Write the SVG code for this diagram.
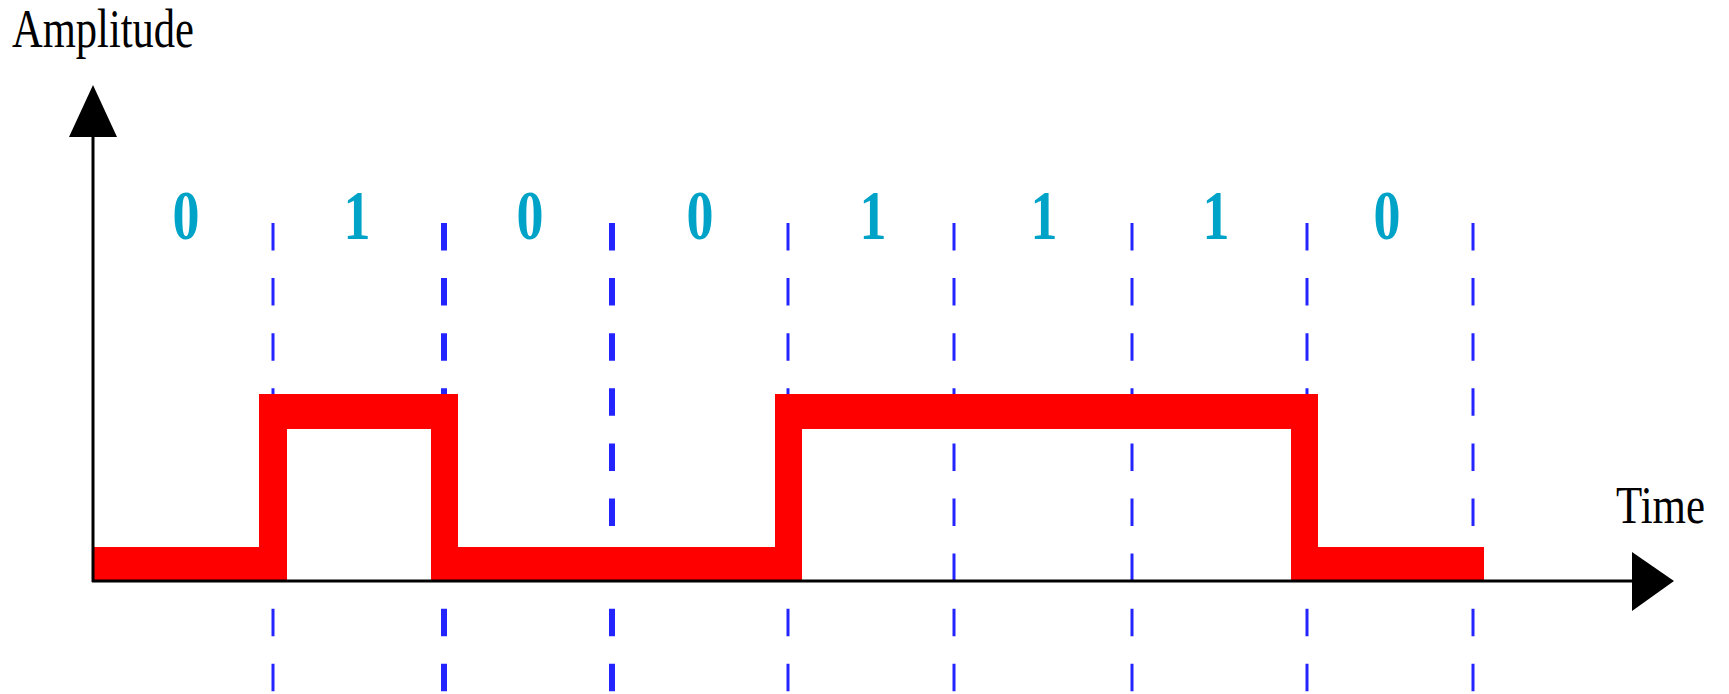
<svg xmlns="http://www.w3.org/2000/svg" width="1729" height="694" viewBox="0 0 1729 694">
<style>
.lbl{font-family:"Liberation Serif","Times New Roman",serif;fill:#000}
.bit{font-family:"Liberation Serif","Times New Roman",serif;font-weight:bold;font-size:69px;fill:#00A3C8;text-anchor:middle}
.grid{stroke:#2424FF;stroke-dasharray:27.5 27.6;fill:none}
.thin{stroke-width:3}
.thick{stroke-width:6}
.axis{stroke:#000;stroke-width:3;fill:none}
</style>
<rect width="1729" height="694" fill="#fff"/>
<g id="gridlines">
<line class="grid thin" x1="273" y1="223" x2="273" y2="694"/>
<line class="grid thick" x1="444" y1="223" x2="444" y2="694"/>
<line class="grid thick" x1="612" y1="223" x2="612" y2="694"/>
<line class="grid thin" x1="788" y1="223" x2="788" y2="694"/>
<line class="grid thin" x1="954" y1="223" x2="954" y2="694"/>
<line class="grid thin" x1="1132" y1="223" x2="1132" y2="694"/>
<line class="grid thin" x1="1307" y1="223" x2="1307" y2="694"/>
<line class="grid thin" x1="1473" y1="223" x2="1473" y2="694"/>
</g>
<g id="signal">
<polygon fill="#FF0000" points="93,547 259,547 259,394 458,394 458,547 775,547 775,394 1318,394 1318,547 1484,547 1484,580 1291,580 1291,429 802,429 802,580 431,580 431,429 287,429 287,580 93,580"/>
</g>
<g id="axes">
<line class="axis" x1="93" y1="582" x2="93" y2="130"/>
<polygon points="93,85 69,137 117,137" fill="#000"/>
<line class="axis" x1="92" y1="581" x2="1640" y2="581"/>
<polygon points="1674,581 1632,552 1632,611" fill="#000"/>
</g>
<g id="labels">
<text class="lbl" x="12" y="47" font-size="54" textLength="182" lengthAdjust="spacingAndGlyphs">Amplitude</text>
<text class="lbl" x="1616" y="523" font-size="53" textLength="89" lengthAdjust="spacingAndGlyphs">Time</text>
</g>
<g id="bits">
<text class="bit" x="186" y="239" textLength="27" lengthAdjust="spacingAndGlyphs">0</text>
<text class="bit" x="357" y="239" textLength="27" lengthAdjust="spacingAndGlyphs">1</text>
<text class="bit" x="530" y="239" textLength="27" lengthAdjust="spacingAndGlyphs">0</text>
<text class="bit" x="700" y="239" textLength="27" lengthAdjust="spacingAndGlyphs">0</text>
<text class="bit" x="873" y="239" textLength="27" lengthAdjust="spacingAndGlyphs">1</text>
<text class="bit" x="1044" y="239" textLength="27" lengthAdjust="spacingAndGlyphs">1</text>
<text class="bit" x="1216" y="239" textLength="27" lengthAdjust="spacingAndGlyphs">1</text>
<text class="bit" x="1387" y="239" textLength="27" lengthAdjust="spacingAndGlyphs">0</text>
</g>
</svg>
